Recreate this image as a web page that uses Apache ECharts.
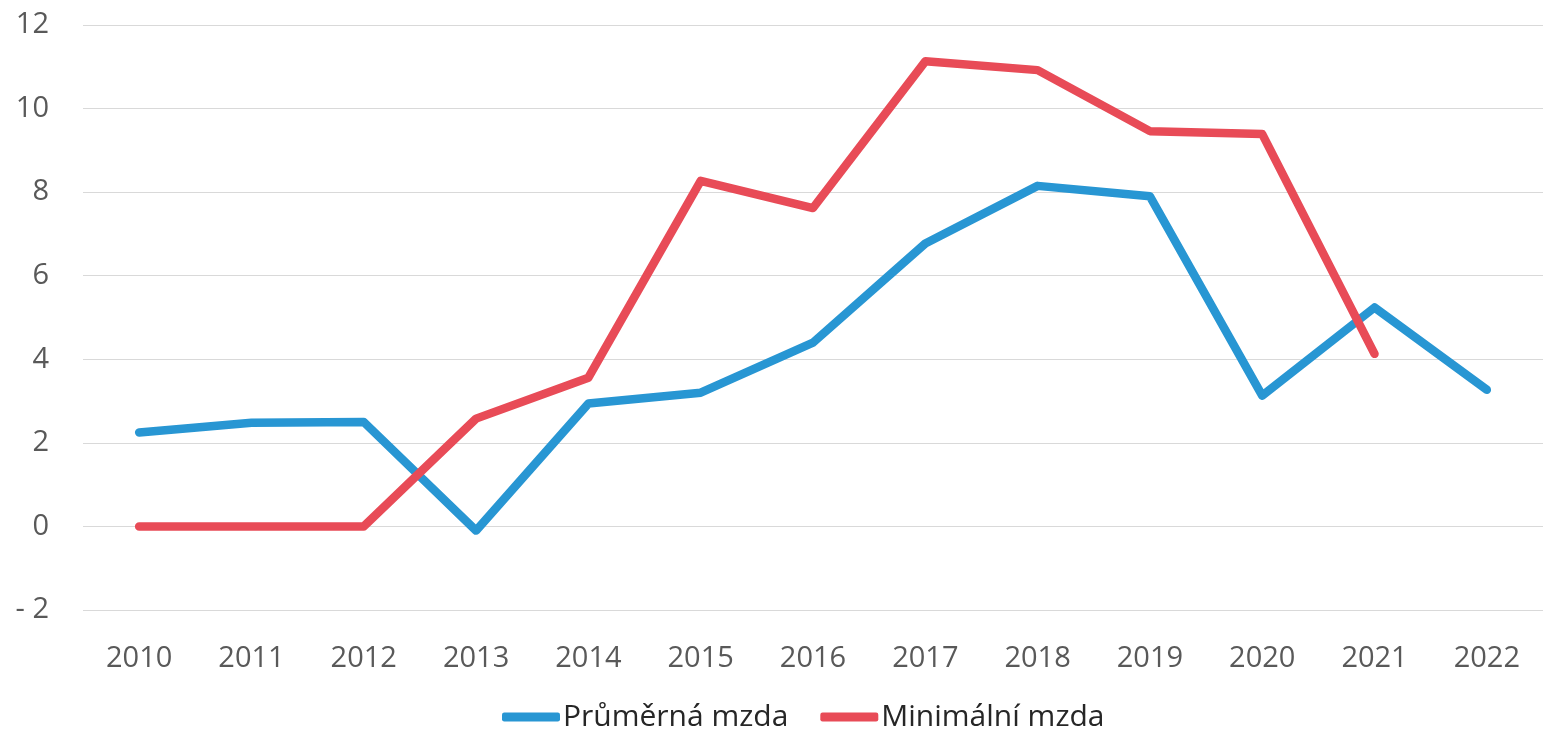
<!DOCTYPE html>
<html>
<head>
<meta charset="utf-8">
<script src="https://cdn.jsdelivr.net/npm/echarts@6/dist/echarts.min.js"></script>
<style>
  html, body { margin: 0; padding: 0; background: #fff; }
  #box { width: 1543px; height: 735px; }
</style>
</head>
<body>
<div id="box"></div>
<script>
const years = ['2010','2011','2012','2013','2014','2015','2016','2017','2018','2019','2020','2021','2022']
const prumernaMzda = [2.25, 2.48, 2.5, -0.1, 2.94, 3.2, 4.4, 6.77, 8.15, 7.9, 3.13, 5.24, 3.27]
const minimalniMzda = [0, 0, 0, 2.58, 3.56, 8.27, 7.62, 11.13, 10.92, 9.46, 9.39, 4.13, null]
const seriesNames = ['Průměrná mzda', 'Minimální mzda']
const colors = ['#2896D3', '#E84B57']

const chart = echarts.init(document.getElementById('box'))
const font = '"Open Sans", "Noto Sans", sans-serif'

const option = {
  animation: false,
  color: colors,
  textStyle: { fontFamily: font },
  grid: { left: 83, width: 1466, top: 25, bottom: 125 },
  legend: {
    bottom: -2,
    left: 497,
    itemWidth: 58,
    itemHeight: 9,
    itemGap: 32,
    icon: 'roundRect',
    textStyle: { fontSize: 30, color: '#262626', fontFamily: font, padding: [0, 0, 0, -2] },
    data: seriesNames
  },
  xAxis: {
    type: 'category',
    data: years,
    boundaryGap: true,
    axisLine: { show: false },
    axisTick: { show: false },
    axisLabel: { fontSize: 29, color: '#595959', margin: 34, fontFamily: font }
  },
  yAxis: {
    type: 'value',
    min: -2,
    max: 12,
    interval: 2,
    axisLine: { show: false },
    axisTick: { show: false },
    splitLine: { lineStyle: { color: '#D9D9D9', width: 1 } },
    axisLabel: {
      fontSize: 29, color: '#595959', margin: 34, fontFamily: font,
      formatter: v => v < 0 ? '- ' + Math.abs(v) : String(v)
    }
  },
  series: [
    {
      name: seriesNames[0],
      type: 'line',
      data: prumernaMzda,
      symbol: 'none',
      lineStyle: { width: 8.5, cap: 'round', join: 'round' }
    },
    {
      name: seriesNames[1],
      type: 'line',
      data: minimalniMzda,
      symbol: 'none',
      lineStyle: { width: 8.5, cap: 'round', join: 'round' }
    }
  ]
}
chart.setOption(option)
</script>
</body>
</html>
